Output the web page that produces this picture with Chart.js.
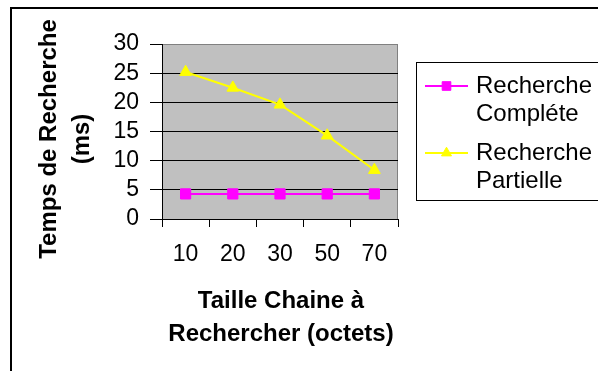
<!DOCTYPE html>
<html>
<head>
<meta charset="utf-8">
<script src="https://cdn.jsdelivr.net/npm/chart.js@4/dist/chart.umd.min.js"></script>
<style>
  html, body { margin: 0; padding: 0; background: #ffffff; }
  canvas { display: block; }
</style>
</head>
<body>
<canvas id="c" width="598" height="371"></canvas>
<script>
// String lengths searched (bytes)
const categories = ['10', '20', '30', '50', '70'];
// Search times (ms)
const rechercheComplete = [4.3, 4.3, 4.3, 4.3, 4.3];
const recherchePartielleValues = [25.2, 22.5, 19.6, 14.3, 8.4];
// Axis settings
const yTicks = { min: 0, max: 30, step: 5 };
const yTitle = ['Temps de Recherche', '(ms)'];
const xTitle = ['Taille Chaine à', 'Rechercher (octets)'];
const seriesNames = [['Recherche', 'Compléte'], ['Recherche', 'Partielle']];

const FONT = '"Liberation Sans", Arial, sans-serif';

// Gray plot background, frame, outer border, axis titles and legend
const decorations = {
  id: 'decorations',
  beforeDraw(chart) {
    const { ctx, chartArea: a } = chart;
    ctx.save();
    ctx.fillStyle = '#ffffff';
    ctx.fillRect(0, 0, chart.width, chart.height);
    ctx.fillStyle = '#c0c0c0';
    ctx.fillRect(a.left, a.top, a.right - a.left, a.bottom - a.top);
    ctx.strokeStyle = '#808080';
    ctx.lineWidth = 1;
    ctx.beginPath();
    ctx.moveTo(a.left, a.top + 0.5);
    ctx.lineTo(a.right - 0.5, a.top + 0.5);
    ctx.lineTo(a.right - 0.5, a.bottom);
    ctx.stroke();
    ctx.restore();
  },
  afterDraw(chart) {
    const { ctx, chartArea: a } = chart;
    ctx.save();
    // outer border of the chart
    ctx.strokeStyle = '#000000';
    ctx.lineWidth = 2;
    ctx.strokeRect(11, 8, 700, 500);

    // axis titles
    ctx.fillStyle = '#000000';
    ctx.font = 'bold 24px ' + FONT;
    ctx.textAlign = 'center';
    ctx.textBaseline = 'middle';
    const xc = (a.left + a.right) / 2 + 1;
    xTitle.forEach((t, i) => ctx.fillText(t, xc, 301 + i * 33.5));
    ctx.save();
    ctx.translate(0, 139);
    ctx.rotate(-Math.PI / 2);
    yTitle.forEach((t, i) => ctx.fillText(t, 0, 49 + i * 33.5));
    ctx.restore();

    // legend
    ctx.strokeStyle = '#000000';
    ctx.lineWidth = 1;
    ctx.strokeRect(416.5, 62.5, 300, 138);
    ctx.font = '24px ' + FONT;
    ctx.textAlign = 'left';
    const rowsY = [86, 153];
    chart.data.datasets.forEach((ds, i) => {
      const y = rowsY[i];
      ctx.strokeStyle = ds.borderColor;
      ctx.lineWidth = ds.borderWidth;
      ctx.beginPath();
      ctx.moveTo(425, y);
      ctx.lineTo(468, y);
      ctx.stroke();
      ctx.fillStyle = ds.pointBackgroundColor;
      ctx.strokeStyle = ds.pointBorderColor;
      ctx.lineWidth = ds.pointBorderWidth;
      Chart.helpers.drawPoint(ctx, {
        pointStyle: ds.pointStyle,
        radius: ds.pointRadius * 0.85,
        rotation: 0,
        borderWidth: ds.pointBorderWidth
      }, 446.5, y);
      ctx.fillStyle = '#000000';
      seriesNames[i].forEach((line, j) => ctx.fillText(line, 476, y + j * 28.5));
    });
    ctx.restore();
  }
};

new Chart(document.getElementById('c'), {
  type: 'line',
  data: {
    labels: categories,
    datasets: [
      {
        label: seriesNames[0].join(' '),
        data: rechercheComplete,
        borderColor: '#ff00ff',
        borderWidth: 2,
        pointStyle: 'rect',
        pointRadius: 7.2,
        pointBackgroundColor: '#ff00ff',
        pointBorderColor: '#ff00ff',
        pointBorderWidth: 1,
        tension: 0
      },
      {
        label: seriesNames[1].join(' '),
        data: recherchePartielleValues,
        borderColor: '#ffff00',
        borderWidth: 2,
        pointStyle: 'triangle',
        pointRadius: 6.8,
        pointBackgroundColor: '#ffff00',
        pointBorderColor: '#ffff00',
        pointBorderWidth: 1,
        tension: 0
      }
    ]
  },
  options: {
    responsive: false,
    animation: false,
    layout: { padding: { top: 44, right: 200, bottom: 0, left: 0 } },
    plugins: { legend: { display: false }, tooltip: { enabled: false } },
    scales: {
      x: {
        offset: true,
        grid: {
          offset: true,
          drawOnChartArea: false,
          drawTicks: true,
          tickLength: 8,
          color: '#000000',
          lineWidth: 1
        },
        border: { display: true, color: '#000000', width: 1 },
        ticks: { color: '#000000', font: { family: FONT, size: 23 }, padding: 14, maxRotation: 0, autoSkip: false },
        afterFit(scale) { scale.height = 152; }
      },
      y: {
        min: yTicks.min,
        max: yTicks.max,
        grid: {
          color: (c) => (c.tick && c.tick.value === yTicks.max ? '#808080' : '#000000'),
          tickColor: '#000000',
          tickLength: 12,
          lineWidth: 1
        },
        border: { display: true, color: '#000000', width: 1 },
        ticks: {
          stepSize: yTicks.step,
          autoSkip: false,
          color: '#000000',
          font: { family: FONT, size: 23 },
          padding: 11
        },
        afterFit(scale) { scale.width = 162; }
      }
    }
  },
  plugins: [decorations]
});
</script>
</body>
</html>
